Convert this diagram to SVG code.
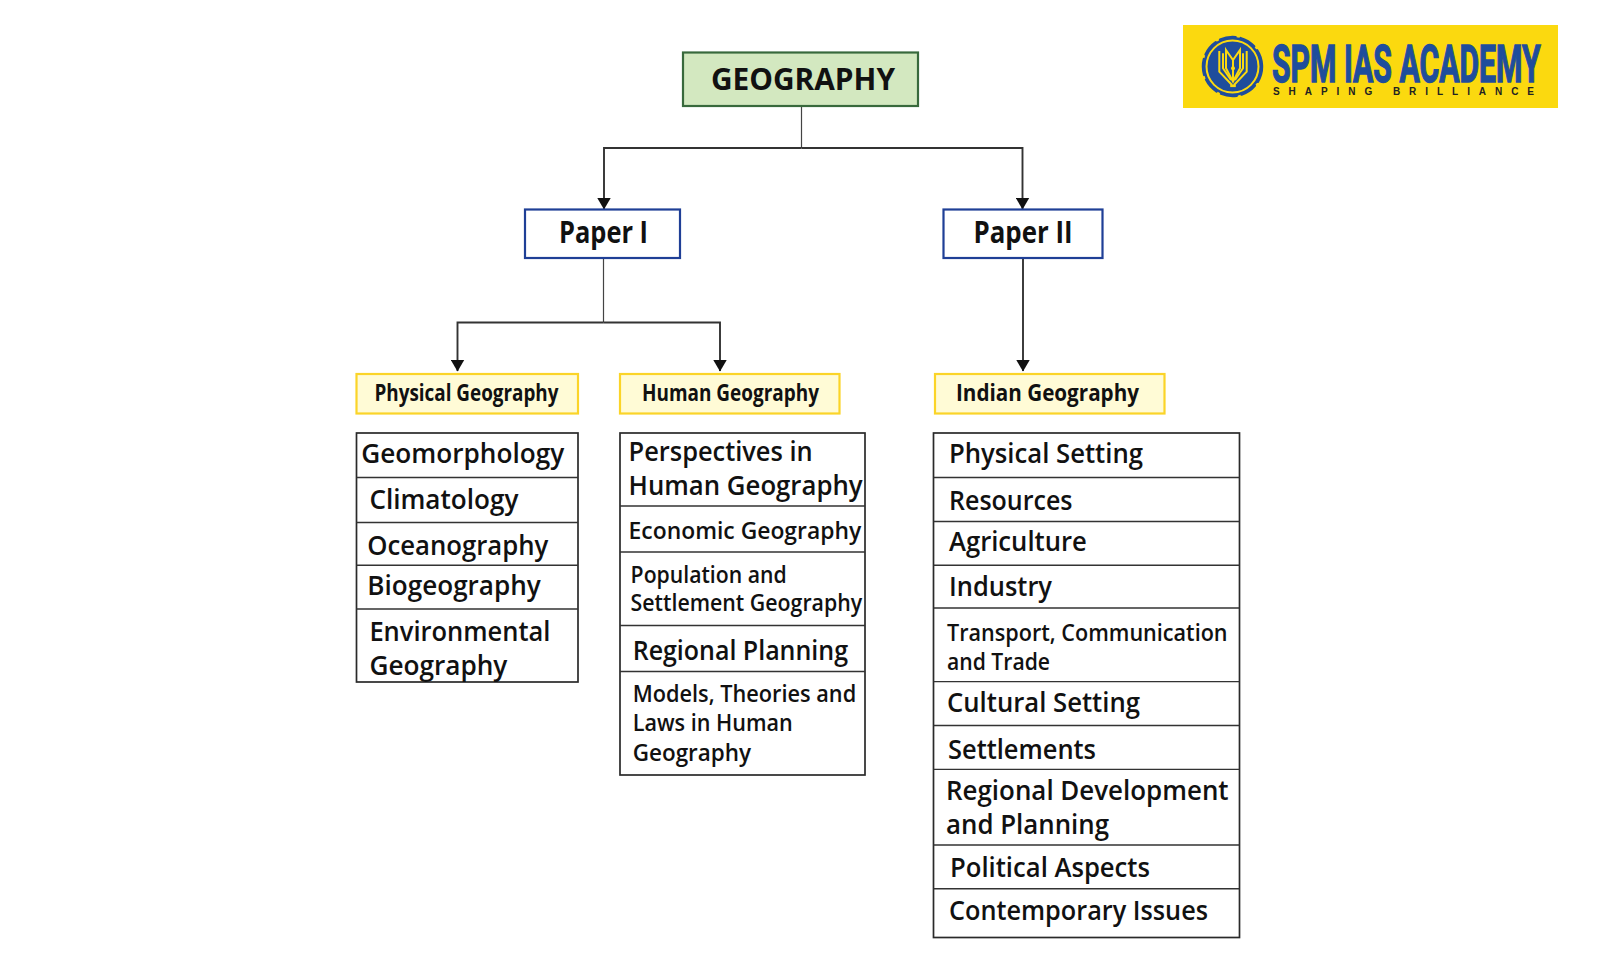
<svg xmlns="http://www.w3.org/2000/svg" width="1600" height="975" viewBox="0 0 1600 975">
<style>
text{font-family:"Open Sans","Noto Sans","Liberation Sans",sans-serif;fill:#111}
.t{font-weight:700;font-size:30px}
.y{font-weight:700;font-size:24px}
.l{font-weight:600;font-size:26.5px}
.m{font-weight:600;font-size:23px}
.box{fill:none;stroke:#2a2a2a;stroke-width:1.7}
.div{stroke:#333;stroke-width:1.4;fill:none}
.yb{fill:#fffbd6;stroke:#fbd428;stroke-width:2.2}
.pb{fill:#fff;stroke:#1f3f96;stroke-width:2.2}
.c{fill:none;stroke:#333;stroke-width:1.9}
.c1{fill:none;stroke:#444;stroke-width:1.2}
.e{fill:none;stroke:#fbd90f;stroke-width:2}
</style>
<defs>
<marker id="arrd" markerUnits="userSpaceOnUse" markerWidth="12" markerHeight="14" refX="11.5" refY="7" orient="auto" viewBox="0 0 12 14"><path d="M0 0L12 7L0 14Z" fill="#111"/></marker>
</defs>
<rect width="1600" height="975" fill="#fff"/>
<g id="connectors">
<path class="c1" d="M801.5 106V148"/>
<path class="c" d="M801.5 148H604V209" marker-end="url(#arrd)"/>
<path class="c" d="M801.5 148H1022.5V209" marker-end="url(#arrd)"/>
<path class="c1" d="M603.5 258V322.5"/>
<path class="c" d="M603.5 322.5H457.5V371" marker-end="url(#arrd)"/>
<path class="c" d="M603.5 322.5H720V371" marker-end="url(#arrd)"/>
<path class="c" d="M1023 258V371" marker-end="url(#arrd)"/>
</g>
<g id="geography">
<rect x="683" y="52.5" width="235" height="53.5" fill="#d3e8c0" stroke="#38693c" stroke-width="2.2"/>
<text class="t" x="711" y="90" textLength="184" lengthAdjust="spacingAndGlyphs">GEOGRAPHY</text>
</g>
<g id="paper1">
<rect class="pb" x="525" y="209.5" width="155" height="48.5"/>
<text class="t" x="559" y="243" textLength="89" lengthAdjust="spacingAndGlyphs">Paper I</text>
</g>
<g id="paper2">
<rect class="pb" x="943.5" y="209.5" width="159" height="48.5"/>
<text class="t" x="973.5" y="243" textLength="99" lengthAdjust="spacingAndGlyphs">Paper II</text>
</g>
<g id="physical-geography">
<rect class="yb" x="356.5" y="374" width="221.5" height="39.5"/>
<text class="y" x="374.5" y="401" textLength="184" lengthAdjust="spacingAndGlyphs">Physical Geography</text>
</g>
<g id="human-geography">
<rect class="yb" x="620" y="374" width="219.5" height="39.5"/>
<text class="y" x="642" y="401" textLength="177" lengthAdjust="spacingAndGlyphs">Human Geography</text>
</g>
<g id="indian-geography">
<rect class="yb" x="935" y="374" width="229.5" height="39.5"/>
<text class="y" x="956" y="401" textLength="183" lengthAdjust="spacingAndGlyphs">Indian Geography</text>
</g>
<g id="physical-list">
<rect class="box" x="356.5" y="433" width="221.5" height="249"/>
<path class="div" d="M356.5 477.5H578M356.5 522.5H578M356.5 565.3H578M356.5 609H578"/>
<text class="l" x="361.2" y="463" textLength="203" lengthAdjust="spacingAndGlyphs">Geomorphology</text>
<text class="l" x="369.4" y="509" textLength="149" lengthAdjust="spacingAndGlyphs">Climatology</text>
<text class="l" x="367.3" y="555" textLength="181" lengthAdjust="spacingAndGlyphs">Oceanography</text>
<text class="l" x="367.3" y="595" textLength="173.5" lengthAdjust="spacingAndGlyphs">Biogeography</text>
<text class="l" x="369.4" y="641" textLength="181" lengthAdjust="spacingAndGlyphs">Environmental</text>
<text class="l" x="369.4" y="674.5" textLength="138" lengthAdjust="spacingAndGlyphs">Geography</text>
</g>
<g id="human-list">
<rect class="box" x="620" y="433" width="245" height="342"/>
<path class="div" d="M620 506H865M620 552H865M620 625.5H865M620 671.5H865"/>
<text class="l" x="628.6" y="461" textLength="184" lengthAdjust="spacingAndGlyphs">Perspectives in</text>
<text class="l" x="628.6" y="495" textLength="234" lengthAdjust="spacingAndGlyphs">Human Geography</text>
<text class="m" x="628.6" y="539" textLength="232.6" lengthAdjust="spacingAndGlyphs">Economic Geography</text>
<text class="m" x="630.6" y="583" textLength="156" lengthAdjust="spacingAndGlyphs">Population and</text>
<text class="m" x="630.6" y="611" textLength="231.6" lengthAdjust="spacingAndGlyphs">Settlement Geography</text>
<text class="l" x="632.7" y="660" textLength="215.3" lengthAdjust="spacingAndGlyphs">Regional Planning</text>
<text class="m" x="632.7" y="702" textLength="223.5" lengthAdjust="spacingAndGlyphs">Models, Theories and</text>
<text class="m" x="632.7" y="731" textLength="160" lengthAdjust="spacingAndGlyphs">Laws in Human</text>
<text class="m" x="632.7" y="760.5" textLength="118.4" lengthAdjust="spacingAndGlyphs">Geography</text>
</g>
<g id="indian-list">
<rect class="box" x="933.5" y="433" width="306" height="504.5"/>
<path class="div" d="M933.5 477.5H1239.5M933.5 521.5H1239.5M933.5 565.3H1239.5M933.5 608H1239.5M933.5 681.6H1239.5M933.5 725.5H1239.5M933.5 769.4H1239.5M933.5 845H1239.5M933.5 888.8H1239.5"/>
<text class="l" x="949" y="463" textLength="194" lengthAdjust="spacingAndGlyphs">Physical Setting</text>
<text class="l" x="949" y="510" textLength="123.5" lengthAdjust="spacingAndGlyphs">Resources</text>
<text class="l" x="949" y="551" textLength="137.8" lengthAdjust="spacingAndGlyphs">Agriculture</text>
<text class="l" x="949" y="596" textLength="103" lengthAdjust="spacingAndGlyphs">Industry</text>
<text class="m" x="947" y="641" textLength="280.6" lengthAdjust="spacingAndGlyphs">Transport, Communication</text>
<text class="m" x="947" y="670" textLength="103" lengthAdjust="spacingAndGlyphs">and Trade</text>
<text class="l" x="947" y="712" textLength="193" lengthAdjust="spacingAndGlyphs">Cultural Setting</text>
<text class="l" x="948" y="759" textLength="148" lengthAdjust="spacingAndGlyphs">Settlements</text>
<text class="l" x="946" y="800" textLength="282.6" lengthAdjust="spacingAndGlyphs">Regional Development</text>
<text class="l" x="946" y="833.7" textLength="163" lengthAdjust="spacingAndGlyphs">and Planning</text>
<text class="l" x="950" y="877" textLength="200" lengthAdjust="spacingAndGlyphs">Political Aspects</text>
<text class="l" x="949" y="920" textLength="259" lengthAdjust="spacingAndGlyphs">Contemporary Issues</text>
</g>
<g id="logo">
<rect x="1183" y="25" width="375" height="83" fill="#fbd90f"/>
<circle cx="1232.5" cy="66.5" r="29.5" fill="#1f4d9c" stroke="#1f4d9c" stroke-width="2.5" stroke-dasharray="16 5" stroke-linecap="round"/>
<circle class="e" cx="1232.5" cy="66.5" r="26" stroke-width="1.6"/>
<path class="e" d="M1226 50L1233 60L1240 50V68.3L1233 81.7L1226 68.3Z"/>
<path class="e" d="M1233 60V81.7" stroke-width="1.4"/>
<path class="e" d="M1219.3 51V71.7L1232 85M1246.7 51V71.7L1234 85" stroke-width="1.7"/>
<path class="e" d="M1223 53.3V68.3L1231 80M1243 53.3V68.3L1235 80" stroke-width="1.2"/>
<circle cx="1233" cy="68.3" r="2" fill="#fbd90f"/>
<rect x="1230.2" y="84.5" width="5.6" height="2.6" fill="#fbd90f"/>
<text transform="translate(1272 82) scale(0.6 1)" x="0" y="0" font-size="52" font-weight="700" textLength="448" lengthAdjust="spacingAndGlyphs" style="font-family:Roboto,'Liberation Sans',sans-serif;fill:#1f4d9c;stroke:#1f4d9c;stroke-width:1.4">SPM IAS ACADEMY</text>
<text x="1273" y="95" font-size="10" font-weight="700" letter-spacing="8.95" style="font-family:'Liberation Sans',sans-serif;fill:#222">SHAPING BRILLIANCE</text>
</g>
</svg>
